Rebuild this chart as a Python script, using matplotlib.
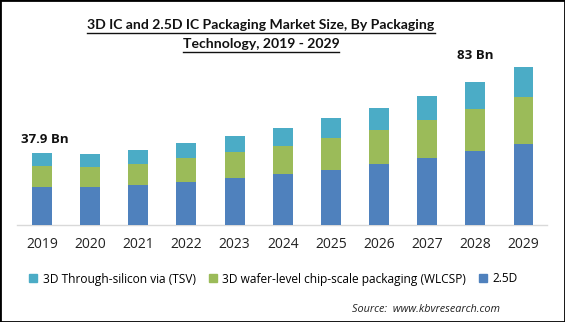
import matplotlib
matplotlib.use("Agg")
import matplotlib.pyplot as plt
import numpy as np

years = ["2019", "2020", "2021", "2022", "2023", "2024", "2025", "2026", "2027", "2028", "2029"]
series_25d = [20.0, 20.0, 21.1, 22.6, 24.7, 26.8, 29.0, 32.1, 35.3, 39.0, 42.4]
series_wlcsp = [11.1, 10.5, 11.1, 12.6, 13.7, 14.7, 16.8, 17.9, 20.0, 22.1, 25.1]
series_tsv = [6.8, 6.8, 7.4, 7.9, 8.4, 9.5, 10.5, 11.6, 12.6, 14.2, 15.5]
labels = ["3D Through-silicon via (TSV)", "3D wafer-level chip-scale packaging (WLCSP)", "2.5D"]
colors = ["#4BACC6", "#9BBB59", "#4F81BD"]
title_lines = ["3D IC and 2.5D IC Packaging Market Size, By Packaging", "Technology, 2019 - 2029"]

W, H = 565, 322
fig = plt.figure(figsize=(W / 100, H / 100), dpi=100)
fig.patch.set_facecolor("white")
renderer = fig.canvas.get_renderer()

def fx(px):
    return px / W

def fy(py):
    return 1 - py / H

def fit_text(xc, yc, s, target_w, size0, **kw):
    t = fig.text(fx(xc), fy(yc), s, ha="center", va="center", fontsize=size0, **kw)
    w = t.get_window_extent(renderer).width
    t.set_fontsize(size0 * target_w / w)
    return t

ax = fig.add_axes([fx(17), fy(225), fx(547) - fx(17), fy(60) - fy(225)])
x = np.arange(len(years))
b1 = np.array(series_25d)
b2 = np.array(series_wlcsp)
b3 = np.array(series_tsv)
ax.bar(x, b1, width=0.415, color=colors[2], label=labels[2], zorder=3)
ax.bar(x, b2, width=0.415, bottom=b1, color=colors[1], label=labels[1], zorder=3)
ax.bar(x, b3, width=0.415, bottom=b1 + b2, color=colors[0], label=labels[0], zorder=3)

ax.set_xlim(-0.519, 10.488)
ax.set_ylim(0, 86.9)
for s in ["top", "right", "left"]:
    ax.spines[s].set_visible(False)
ax.spines["bottom"].set_color("#D9D9D9")
ax.spines["bottom"].set_linewidth(1.0)
ax.set_yticks([])
ax.set_xticks(x)
ax.set_xticklabels(years, fontsize=10, color="#222222", family="Open Sans")
ax.tick_params(axis="x", length=0, pad=9)

totals = b1 + b2 + b3
ax.annotate("37.9 Bn", xy=(0, totals[0]), xytext=(3, 7), textcoords="offset pixels",
            ha="center", va="bottom", fontsize=9.5, fontweight="bold", family="Open Sans", color="#111111")
ax.annotate("83 Bn", xy=(10, totals[10]), xytext=(-48, 5), textcoords="offset pixels",
            ha="center", va="bottom", fontsize=9.5, fontweight="bold", family="Open Sans", color="#111111")

# title, two lines, underlined
t1 = fit_text(261, 25, title_lines[0], 348, 11, fontweight="bold", family="Lato", color="#111111")
t2 = fit_text(261, 44, title_lines[1], 156, 11, fontweight="bold", family="Lato", color="#111111")
t2.set_fontsize(t1.get_fontsize())
fig.add_artist(plt.Line2D([fx(87), fx(435)], [fy(32.5), fy(32.5)], color="#111111", lw=1.0))
w2 = t2.get_window_extent(renderer).width
fig.add_artist(plt.Line2D([fx(261 - w2 / 2), fx(261 + w2 / 2)], [fy(51.5), fy(51.5)], color="#111111", lw=1.0))

# legend
handles = [plt.Rectangle((0, 0), 1, 1, color=c) for c in colors]
leg = fig.legend(handles, labels, loc="center", bbox_to_anchor=(fx(273.5), fy(279)), ncol=3,
                 frameon=False, handlelength=0.6, handleheight=0.6,
                 handletextpad=0.4, columnspacing=1.0, prop={"family": "Open Sans", "size": 9.5})
fig.canvas.draw()
lw = leg.get_window_extent(renderer).width - 2 * leg.borderpad * 9.5 * 100 / 72
scale = 485 / lw
for t in leg.get_texts():
    t.set_fontsize(9.5 * scale)

fit_text(426, 309, "Source:  www.kbvresearch.com", 148, 8.5, style="italic", family="Open Sans", color="#222222")

# border
fig.add_artist(plt.Rectangle((0, 0), 1, 1, transform=fig.transFigure, fill=False,
                             edgecolor="black", lw=2.0))

fig.savefig("out.png", dpi=100)
